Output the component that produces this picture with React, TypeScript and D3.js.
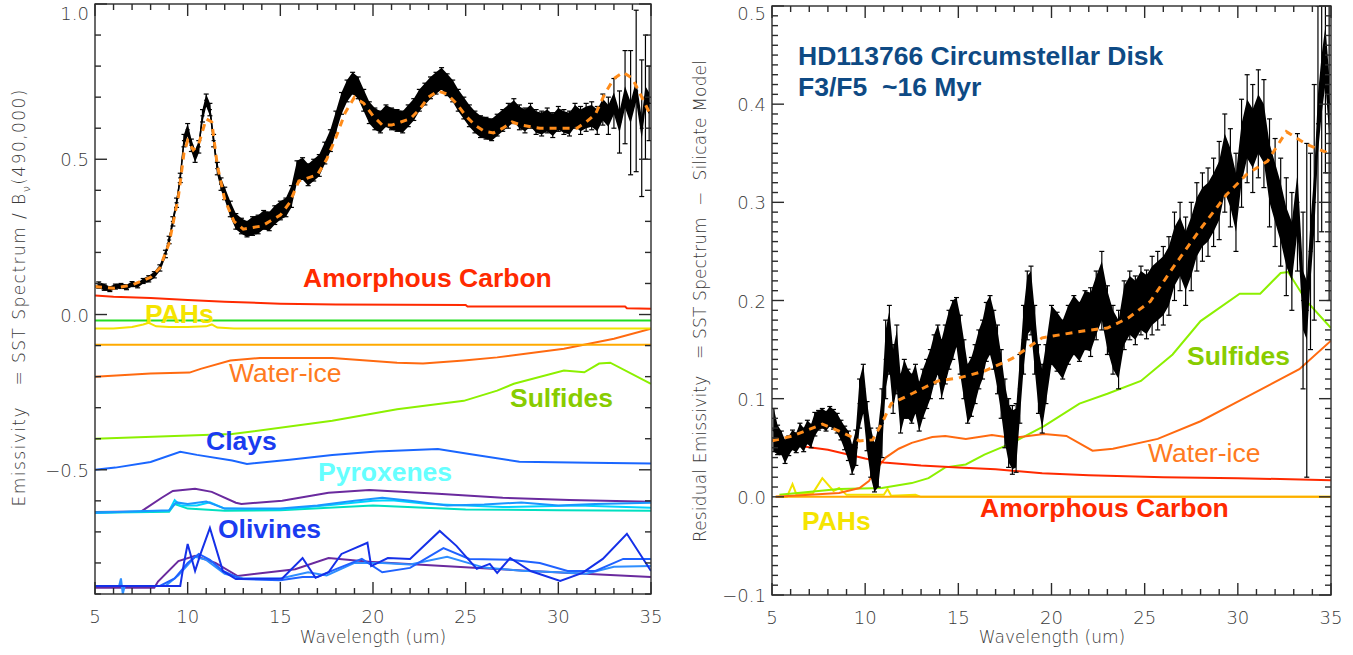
import * as d3 from "d3"

type P2 = [number, number]
type P3 = [number, number, number]

// ---------- left panel: SST spectrum / B_nu(490,000), with offset model components ----------
// [wavelength, value, error]
const leftSpectrum: P3[] = [
  [5.2, 0.095, 0.01], [5.5, 0.088, 0.01], [5.8, 0.082, 0.008], [6.1, 0.09, 0.008], [6.4, 0.092, 0.008],
  [6.7, 0.088, 0.008], [7.0, 0.098, 0.008], [7.3, 0.094, 0.008], [7.6, 0.108, 0.008], [7.9, 0.115, 0.01],
  [8.2, 0.128, 0.01], [8.5, 0.15, 0.01], [8.8, 0.195, 0.012], [9.0, 0.24, 0.012], [9.2, 0.3, 0.015],
  [9.4, 0.36, 0.015], [9.6, 0.44, 0.015], [9.8, 0.56, 0.02], [10.0, 0.595, 0.02], [10.2, 0.545, 0.02],
  [10.4, 0.51, 0.02], [10.6, 0.54, 0.02], [10.8, 0.64, 0.02], [11.0, 0.69, 0.02], [11.2, 0.66, 0.02],
  [11.4, 0.56, 0.02], [11.6, 0.47, 0.02], [11.8, 0.42, 0.02], [12.0, 0.39, 0.02], [12.3, 0.34, 0.025],
  [12.6, 0.3, 0.025], [12.9, 0.285, 0.025], [13.2, 0.275, 0.025], [13.5, 0.285, 0.03], [13.8, 0.29, 0.03],
  [14.1, 0.305, 0.03], [14.4, 0.3, 0.03], [14.7, 0.32, 0.03], [15.0, 0.335, 0.03], [15.3, 0.345, 0.03],
  [15.6, 0.38, 0.035], [15.9, 0.46, 0.035], [16.2, 0.47, 0.035], [16.5, 0.45, 0.035], [16.8, 0.465, 0.035],
  [17.1, 0.48, 0.035], [17.4, 0.52, 0.035], [17.7, 0.56, 0.035], [18.0, 0.62, 0.035], [18.3, 0.68, 0.035],
  [18.6, 0.72, 0.035], [18.9, 0.745, 0.035], [19.2, 0.73, 0.035], [19.5, 0.69, 0.035], [19.8, 0.65, 0.035],
  [20.1, 0.63, 0.035], [20.4, 0.62, 0.035], [20.7, 0.64, 0.035], [21.0, 0.63, 0.035], [21.3, 0.625, 0.035],
  [21.6, 0.62, 0.035], [21.9, 0.64, 0.035], [22.2, 0.66, 0.035], [22.5, 0.69, 0.035], [22.8, 0.71, 0.035],
  [23.1, 0.73, 0.035], [23.4, 0.745, 0.035], [23.7, 0.76, 0.035], [24.0, 0.74, 0.035], [24.3, 0.72, 0.035],
  [24.6, 0.69, 0.035], [24.9, 0.665, 0.035], [25.2, 0.64, 0.035], [25.5, 0.62, 0.035], [25.8, 0.605, 0.035],
  [26.1, 0.6, 0.035], [26.4, 0.595, 0.035], [26.7, 0.61, 0.035], [27.0, 0.625, 0.035], [27.3, 0.64, 0.04],
  [27.6, 0.655, 0.04], [27.9, 0.635, 0.04], [28.2, 0.625, 0.04], [28.5, 0.64, 0.04], [28.8, 0.62, 0.04],
  [29.1, 0.615, 0.04], [29.4, 0.625, 0.04], [29.7, 0.61, 0.04], [30.0, 0.63, 0.04], [30.3, 0.62, 0.04],
  [30.6, 0.615, 0.04], [30.9, 0.64, 0.04], [31.2, 0.625, 0.045], [31.5, 0.635, 0.045], [31.8, 0.64, 0.045],
  [32.1, 0.625, 0.045], [32.4, 0.66, 0.05], [32.7, 0.64, 0.06], [33.0, 0.68, 0.08], [33.3, 0.62, 0.1],
  [33.6, 0.7, 0.15], [33.9, 0.65, 0.2], [34.2, 0.72, 0.26], [34.5, 0.6, 0.22], [34.7, 0.7, 0.2], [34.9, 0.68, 0.12],
]

const leftModel: P2[] = [
  [5, 0.09], [6, 0.085], [7, 0.095], [8, 0.12], [8.5, 0.15], [9, 0.23], [9.5, 0.38], [9.8, 0.52], [10, 0.56],
  [10.3, 0.53], [10.6, 0.55], [11, 0.63], [11.3, 0.62], [11.6, 0.48], [12, 0.37], [12.5, 0.3], [13, 0.275],
  [14, 0.285], [15, 0.32], [15.5, 0.36], [16, 0.43], [16.5, 0.44], [17, 0.45], [17.5, 0.5], [18, 0.57],
  [18.5, 0.65], [19, 0.7], [19.5, 0.68], [20, 0.64], [20.5, 0.61], [21, 0.61], [21.5, 0.62], [22, 0.63],
  [22.5, 0.66], [23, 0.7], [23.5, 0.72], [24, 0.71], [24.5, 0.68], [25, 0.64], [25.5, 0.61], [26, 0.59],
  [26.5, 0.585], [27, 0.6], [27.5, 0.62], [28, 0.61], [29, 0.6], [30, 0.6], [31, 0.6], [31.5, 0.62],
  [32, 0.645], [32.5, 0.71], [33, 0.76], [33.5, 0.78], [34, 0.76], [34.5, 0.7], [35, 0.64],
]

const leftAmCarbon: P2[] = [
  [5, 0.061], [6, 0.057], [8, 0.053], [10, 0.047], [12, 0.041], [15, 0.035], [18, 0.032], [25, 0.031],
  [25.1, 0.026], [33.6, 0.026], [33.7, 0.02], [35, 0.019],
]
const leftGreen: P2[] = [[5, -0.019], [35, -0.019]]
const leftPah: P2[] = [
  [5, -0.045], [6, -0.045], [7, -0.04], [7.6, -0.032], [7.9, -0.027], [8.3, -0.038], [9, -0.04], [10, -0.04],
  [11, -0.038], [11.3, -0.032], [11.6, -0.042], [12.5, -0.045], [35, -0.045],
]
const leftOrangeFlat: P2[] = [[5, -0.097], [35, -0.097]]
const leftWaterIce: P2[] = [
  [5, -0.2], [8, -0.19], [10.1, -0.187], [10.7, -0.175], [12.3, -0.148], [13.9, -0.14], [17.8, -0.14],
  [21.3, -0.155], [22.7, -0.158], [24.9, -0.148], [26.7, -0.138], [30.3, -0.11], [33, -0.078], [35, -0.046],
]
const leftSulfides: P2[] = [
  [5, -0.4], [12.4, -0.385], [17.8, -0.342], [21.3, -0.305], [24.9, -0.278], [26.7, -0.245], [27.6, -0.223],
  [30.3, -0.18], [31.4, -0.186], [32.2, -0.158], [32.8, -0.155], [35, -0.223],
]
const leftClays: P2[] = [
  [5, -0.5], [6.1, -0.493], [8, -0.475], [9.6, -0.442], [10.5, -0.452], [12.4, -0.47], [13.2, -0.481],
  [15.5, -0.468], [17.8, -0.452], [20.2, -0.441], [23.5, -0.433], [25.2, -0.449], [27.9, -0.474],
  [31.7, -0.477], [35, -0.48],
]
const leftPyroxPurple: P2[] = [
  [5, -0.636], [7.5, -0.634], [7.7, -0.626], [8.6, -0.59], [9.2, -0.568], [10.4, -0.561], [11.3, -0.571],
  [12.6, -0.606], [12.9, -0.61], [15.1, -0.6], [17.6, -0.574], [19.8, -0.565], [23.5, -0.577], [27, -0.59],
  [30.6, -0.597], [35, -0.603],
]
const leftPyroxTeal: P2[] = [
  [5, -0.638], [9, -0.635], [9.3, -0.61], [10, -0.625], [12, -0.632], [15, -0.63], [20, -0.615], [25, -0.628],
  [30, -0.63], [35, -0.632],
]
const leftPyroxCyan: P2[] = [
  [5, -0.638], [9, -0.632], [9.3, -0.598], [9.6, -0.615], [10.5, -0.615], [11.2, -0.605], [12, -0.625],
  [15, -0.628], [18, -0.612], [20, -0.6], [21, -0.598], [23, -0.61], [27, -0.62], [31, -0.615], [35, -0.622],
]
const leftPyroxBlue: P2[] = [
  [5, -0.638], [9, -0.63], [9.4, -0.605], [10, -0.61], [11, -0.602], [12, -0.625], [15, -0.625], [17, -0.615],
  [19, -0.6], [20.5, -0.59], [22, -0.6], [24, -0.615], [26, -0.612], [28, -0.605], [30, -0.615], [32, -0.61],
  [35, -0.606],
]
const leftOlivPurple: P2[] = [
  [5, -0.88], [8.2, -0.88], [8.4, -0.86], [9.5, -0.794], [10.4, -0.777], [11.5, -0.8], [12.7, -0.842],
  [15.8, -0.82], [17.6, -0.784], [19.8, -0.796], [25.2, -0.815], [30.6, -0.832], [35, -0.845],
]
const leftOlivDark: P2[] = [
  [5, -0.874], [9.6, -0.874], [9.8, -0.8], [10.0, -0.739], [10.4, -0.826], [10.7, -0.77], [11.2, -0.687],
  [11.9, -0.826], [12.6, -0.852], [15.1, -0.85], [16.2, -0.784], [16.9, -0.848], [17.6, -0.83], [18.3, -0.771],
  [19.7, -0.735], [19.9, -0.81], [20.8, -0.784], [22, -0.787], [23.6, -0.697], [24.5, -0.745], [25.6, -0.819],
  [26.3, -0.803], [26.7, -0.832], [27.4, -0.784], [28.5, -0.826], [30.1, -0.858], [31.3, -0.832],
  [32.4, -0.787], [33.7, -0.706], [35, -0.826],
]
const leftOlivMid: P2[] = [
  [5, -0.874], [8.5, -0.874], [9.3, -0.85], [10.0, -0.8], [10.6, -0.771], [11.2, -0.79], [11.9, -0.826],
  [12.9, -0.852], [15, -0.856], [16.2, -0.845], [17, -0.845], [18, -0.82], [19.4, -0.787], [20.5, -0.83],
  [22, -0.816], [23.8, -0.752], [25.2, -0.787], [27.4, -0.79], [29, -0.8], [30.5, -0.826], [32, -0.826],
  [33.5, -0.787], [35, -0.787],
]
const leftOlivLight: P2[] = [
  [5, -0.874], [6.3, -0.874], [6.4, -0.85], [6.5, -0.9], [6.6, -0.874], [8.8, -0.874], [9.5, -0.84],
  [10.4, -0.78], [11, -0.79], [12, -0.835], [13, -0.85], [15, -0.85], [16.5, -0.83], [17.5, -0.84],
  [19, -0.8], [20.5, -0.8], [22, -0.805], [24, -0.78], [26, -0.815], [28, -0.825], [30, -0.83],
  [31.5, -0.835], [33, -0.812], [35, -0.81],
]

// ---------- right panel: residual emissivity ----------
const rightSpectrum: P3[] = [
  [5.1, 0.068, 0.022], [5.3, 0.058, 0.015], [5.5, 0.055, 0.012], [5.7, 0.046, 0.012], [5.9, 0.052, 0.01],
  [6.1, 0.058, 0.01], [6.3, 0.055, 0.01], [6.5, 0.063, 0.012], [6.7, 0.058, 0.012], [6.9, 0.066, 0.012],
  [7.1, 0.062, 0.012], [7.3, 0.074, 0.012], [7.5, 0.078, 0.01], [7.7, 0.08, 0.01], [7.9, 0.077, 0.01],
  [8.1, 0.082, 0.01], [8.3, 0.079, 0.01], [8.5, 0.075, 0.01], [8.7, 0.068, 0.01], [8.9, 0.06, 0.012],
  [9.1, 0.052, 0.015], [9.3, 0.038, 0.015], [9.5, 0.05, 0.018], [9.7, 0.095, 0.025], [9.9, 0.11, 0.025],
  [10.1, 0.072, 0.025], [10.3, 0.045, 0.025], [10.5, 0.03, 0.025], [10.7, 0.04, 0.03], [10.9, 0.075, 0.035],
  [11.1, 0.14, 0.04], [11.3, 0.16, 0.035], [11.5, 0.12, 0.035], [11.7, 0.14, 0.035], [11.9, 0.095, 0.03],
  [12.1, 0.11, 0.03], [12.3, 0.105, 0.025], [12.5, 0.1, 0.025], [12.7, 0.11, 0.025], [12.9, 0.092, 0.025],
  [13.1, 0.105, 0.025], [13.3, 0.115, 0.025], [13.5, 0.125, 0.025], [13.7, 0.14, 0.025], [13.9, 0.15, 0.025],
  [14.1, 0.13, 0.03], [14.3, 0.145, 0.03], [14.5, 0.16, 0.03], [14.7, 0.17, 0.03], [14.9, 0.178, 0.025],
  [15.1, 0.155, 0.03], [15.3, 0.13, 0.03], [15.5, 0.105, 0.03], [15.7, 0.112, 0.03], [15.9, 0.125, 0.03],
  [16.1, 0.14, 0.03], [16.3, 0.15, 0.03], [16.5, 0.168, 0.03], [16.7, 0.175, 0.03], [16.9, 0.16, 0.03],
  [17.1, 0.14, 0.035], [17.3, 0.115, 0.035], [17.5, 0.085, 0.035], [17.7, 0.065, 0.035], [17.9, 0.058, 0.035],
  [18.1, 0.06, 0.035], [18.3, 0.11, 0.035], [18.5, 0.16, 0.035], [18.7, 0.195, 0.035], [18.9, 0.2, 0.035],
  [19.1, 0.16, 0.035], [19.3, 0.12, 0.035], [19.5, 0.1, 0.035], [19.7, 0.125, 0.03], [20.0, 0.165, 0.03],
  [20.3, 0.158, 0.03], [20.6, 0.15, 0.03], [20.9, 0.165, 0.03], [21.2, 0.175, 0.03], [21.5, 0.168, 0.03],
  [21.8, 0.18, 0.03], [22.1, 0.178, 0.035], [22.4, 0.195, 0.035], [22.7, 0.21, 0.04], [23.0, 0.18, 0.035],
  [23.3, 0.16, 0.035], [23.6, 0.15, 0.04], [23.9, 0.185, 0.035], [24.2, 0.195, 0.035], [24.5, 0.19, 0.035],
  [24.8, 0.2, 0.035], [25.1, 0.196, 0.035], [25.4, 0.205, 0.04], [25.7, 0.21, 0.04], [26.0, 0.215, 0.04],
  [26.3, 0.225, 0.04], [26.6, 0.245, 0.045], [26.9, 0.255, 0.045], [27.2, 0.24, 0.045], [27.5, 0.255, 0.045],
  [27.8, 0.275, 0.045], [28.1, 0.285, 0.045], [28.4, 0.29, 0.045], [28.7, 0.3, 0.045], [29.0, 0.312, 0.05],
  [29.3, 0.34, 0.05], [29.6, 0.325, 0.05], [29.9, 0.3, 0.05], [30.2, 0.35, 0.055], [30.5, 0.375, 0.055],
  [30.8, 0.365, 0.055], [31.1, 0.38, 0.055], [31.4, 0.37, 0.055], [31.7, 0.33, 0.055], [32.0, 0.31, 0.055],
  [32.3, 0.29, 0.055], [32.6, 0.265, 0.06], [32.9, 0.25, 0.06], [33.2, 0.3, 0.07], [33.5, 0.2, 0.09],
  [33.7, 0.19, 0.17], [33.9, 0.25, 0.1], [34.1, 0.3, 0.12], [34.3, 0.38, 0.12], [34.5, 0.42, 0.15],
  [34.7, 0.45, 0.12], [34.9, 0.4, 0.2],
]

const rightModel: P2[] = [
  [5.0, 0.057], [6.1, 0.062], [7.7, 0.074], [8.6, 0.067], [9.7, 0.057], [10.4, 0.058], [10.9, 0.075],
  [11.4, 0.095], [12.5, 0.105], [13.9, 0.118], [15.0, 0.121], [16.4, 0.128], [17.9, 0.141], [19.5, 0.162],
  [21.7, 0.169], [23.0, 0.172], [24.1, 0.182], [25.3, 0.199], [26.5, 0.233], [28.0, 0.273], [29.4, 0.308],
  [30.5, 0.329], [31.6, 0.342], [32.6, 0.372], [33.7, 0.359], [35.0, 0.349],
]
const rightAmCarbon: P2[] = [
  [5.2, 0.056], [6, 0.053], [8, 0.048], [10, 0.039], [11, 0.035], [13, 0.032], [15, 0.03], [17, 0.028],
  [19.5, 0.024], [22, 0.022], [26, 0.02], [30, 0.019], [35, 0.017],
]
const rightOrangeFlat: P2[] = [[5.2, 0], [35, 0]]
const rightWaterIce: P2[] = [
  [5.2, 0.0], [8.6, 0.004], [9.7, 0.009], [10.2, 0.016], [10.5, 0.026], [11.1, 0.04], [11.8, 0.049],
  [12.5, 0.055], [13.6, 0.061], [14.3, 0.062], [15.4, 0.059], [16.8, 0.063], [17.9, 0.06], [19.6, 0.064],
  [20.8, 0.062], [22.2, 0.047], [23.3, 0.049], [25.7, 0.059], [28.0, 0.077], [30.1, 0.098], [33.3, 0.13],
  [35, 0.159],
]
const rightSulfides: P2[] = [
  [5.4, 0.002], [8.6, 0.008], [10.9, 0.009], [12.5, 0.014], [13.4, 0.019], [14.3, 0.03], [15.4, 0.033],
  [16.4, 0.043], [17.9, 0.055], [19.6, 0.072], [21.5, 0.095], [23.0, 0.105], [24.8, 0.118], [26.5, 0.145],
  [28.0, 0.179], [30.1, 0.207], [31.2, 0.207], [32.3, 0.228], [32.7, 0.229], [33.7, 0.199], [35, 0.172],
]
const rightPah: P2[] = [
  [5.2, 0], [5.8, 0], [6.1, 0.013], [6.3, 0.003], [7.2, 0.004], [7.7, 0.019], [8.3, 0.006], [8.6, 0.009],
  [9.0, 0.002], [11.0, 0.002], [11.2, 0.008], [11.4, 0.001], [12.7, 0.002], [13, 0], [35, 0],
]

// axis tick values
const xMajor = [5, 10, 15, 20, 25, 30, 35]
const leftYMajor = [-0.5, 0, 0.5, 1.0]
const rightYMajor = [-0.1, 0, 0.1, 0.2, 0.3, 0.4, 0.5]

const W = 1353
const H = 655
const tickFont = "'DejaVu Sans', Verdana, sans-serif"
const labelFont = "'Liberation Sans', Arial, sans-serif"
const axisColor = "#2b2b2b"
const textGrey = "#3a3a3a"

type Scale = d3.ScaleLinear<number, number>

function Frame({ x, y, yMinorStep, yMajor, id }: { x: Scale; y: Scale; yMinorStep: number; yMajor: number[]; id: string }) {
  const [x0, x1] = x.range()
  const [y0, y1] = y.range() // bottom, top
  const xMinor = d3.range(x.domain()[0], x.domain()[1] + 0.001, 1)
  const [d0, d1] = y.domain()
  const yMinor = d3.range(Math.round(d0 / yMinorStep), Math.round(d1 / yMinorStep) + 1).map((k) => k * yMinorStep)
  const isMajor = (v: number) => yMajor.some((m) => Math.abs(m - v) < 1e-6)
  const fmt = (v: number) => (v < 0 ? "\u2212" : "") + Math.abs(v).toFixed(1)
  return (
    <g stroke={axisColor} strokeWidth={1.4} fill="none">
      <rect x={x0} y={y1} width={x1 - x0} height={y0 - y1} />
      {xMinor.map((v) => {
        const len = xMajor.includes(v) ? 12 : 6
        return (
          <g key={`x${id}${v}`}>
            <line x1={x(v)} x2={x(v)} y1={y0} y2={y0 - len} />
            <line x1={x(v)} x2={x(v)} y1={y1} y2={y1 + len} />
          </g>
        )
      })}
      {yMinor.map((v) => {
        const len = isMajor(v) ? 12 : 6
        return (
          <g key={`y${id}${v}`}>
            <line x1={x0} x2={x0 + len} y1={y(v)} y2={y(v)} />
            <line x1={x1} x2={x1 - len} y1={y(v)} y2={y(v)} />
          </g>
        )
      })}
      <g stroke="none" fill={textGrey} fontFamily={tickFont} fontWeight={200} fontSize={18}>
        {xMajor.map((v) => (
          <text key={`xl${id}${v}`} x={x(v)} y={y0 + 29} textAnchor="middle">
            {v}
          </text>
        ))}
        {yMajor.map((v) => (
          <text key={`yl${id}${v}`} x={x0 - 6} y={Math.max(y(v) + 7, 20)} textAnchor="end">
            {fmt(v)}
          </text>
        ))}
      </g>
    </g>
  )
}

function Spectrum({ data, x, y, band }: { data: P3[]; x: Scale; y: Scale; band: number }) {
  const area = d3
    .area<P3>()
    .x((d) => x(d[0]))
    .y0((d) => y(d[1] - Math.min(d[2], band)))
    .y1((d) => y(d[1] + Math.min(d[2], band)))
  const line = d3
    .line<P3>()
    .x((d) => x(d[0]))
    .y((d) => y(d[1]))
  return (
    <g>
      <path d={area(data) ?? ""} fill="#000" />
      <path d={line(data) ?? ""} fill="none" stroke="#000" strokeWidth={1.5} />
      {data.map((d) => {
        const cx = x(d[0])
        const lo = y(d[1] - d[2])
        const hi = y(d[1] + d[2])
        return (
          <g key={d[0]} stroke="#000" strokeWidth={1.2}>
            <line x1={cx} x2={cx} y1={lo} y2={hi} />
            <line x1={cx - 2.5} x2={cx + 2.5} y1={lo} y2={lo} />
            <line x1={cx - 2.5} x2={cx + 2.5} y1={hi} y2={hi} />
            <line x1={cx - 2} x2={cx + 2} y1={y(d[1])} y2={y(d[1])} />
          </g>
        )
      })}
    </g>
  )
}

function Curve({ data, x, y, color, width = 2, dash }: { data: P2[]; x: Scale; y: Scale; color: string; width?: number; dash?: string }) {
  const line = d3
    .line<P2>()
    .x((d) => x(d[0]))
    .y((d) => y(d[1]))
  return <path d={line(data) ?? ""} fill="none" stroke={color} strokeWidth={width} strokeDasharray={dash} />
}

function Label({ x, y, color, children, bold = true }: { x: number; y: number; color: string; children: string; bold?: boolean }) {
  return (
    <text x={x} y={y} fill={color} fontFamily={labelFont} fontWeight={bold ? 700 : 400} fontSize={26.5} style={{ whiteSpace: "pre" }}>
      {children}
    </text>
  )
}

export default function App() {
  const xL = d3.scaleLinear([5, 35], [95, 651])
  const yL = d3.scaleLinear([-0.9, 1.0], [594, 4])
  const xR = d3.scaleLinear([5, 35], [772, 1331])
  const yR = d3.scaleLinear([-0.1, 0.5], [595, 6])

  return (
    <svg width={W} height={H} viewBox={`0 0 ${W} ${H}`} style={{ position: "absolute", left: 0, top: 0, background: "#fff" }}>
      <defs>
        <clipPath id="clipL">
          <rect x={95} y={4} width={556} height={590} />
        </clipPath>
        <clipPath id="clipR">
          <rect x={772} y={6} width={559} height={589} />
        </clipPath>
      </defs>
      <rect width={W} height={H} fill="#fff" />

      {/* left panel */}
      <g clipPath="url(#clipL)">
        <Curve data={leftOlivPurple} x={xL} y={yL} color="#6a2a9e" />
        <Curve data={leftOlivLight} x={xL} y={yL} color="#2f8fff" />
        <Curve data={leftOlivMid} x={xL} y={yL} color="#1f62ff" />
        <Curve data={leftOlivDark} x={xL} y={yL} color="#1530e8" />
        <Curve data={leftPyroxPurple} x={xL} y={yL} color="#6a2a9e" />
        <Curve data={leftPyroxTeal} x={xL} y={yL} color="#00e0c0" />
        <Curve data={leftPyroxCyan} x={xL} y={yL} color="#00d2ff" />
        <Curve data={leftPyroxBlue} x={xL} y={yL} color="#1a96ff" />
        <Curve data={leftClays} x={xL} y={yL} color="#1a66ff" />
        <Curve data={leftSulfides} x={xL} y={yL} color="#8cf000" />
        <Curve data={leftWaterIce} x={xL} y={yL} color="#ff6a10" />
        <Curve data={leftOrangeFlat} x={xL} y={yL} color="#ffaa00" />
        <Curve data={leftPah} x={xL} y={yL} color="#f2e200" />
        <Curve data={leftGreen} x={xL} y={yL} color="#22dd22" />
        <Curve data={leftAmCarbon} x={xL} y={yL} color="#ff2a00" />
        <Spectrum data={leftSpectrum} x={xL} y={yL} band={0.035} />
        <Curve data={leftModel} x={xL} y={yL} color="#ff8c1a" width={3} dash="7 6" />
      </g>
      <Frame x={xL} y={yL} yMinorStep={0.1} yMajor={leftYMajor} id="L" />
      <Label x={303} y={287} color="#ff2a00">Amorphous Carbon</Label>
      <Label x={145} y={323} color="#f5e400">PAHs</Label>
      <Label x={229} y={382} color="#ff7a20" bold={false}>Water-ice</Label>
      <Label x={510} y={407} color="#88cc00">Sulfides</Label>
      <Label x={206} y={450} color="#1a3cf0">Clays</Label>
      <Label x={318} y={481} color="#66ffff">Pyroxenes</Label>
      <Label x={218} y={538} color="#1a3cf0">Olivines</Label>

      <text x={373} y={643} textAnchor="middle" fontFamily={tickFont} fontWeight={200} fontSize={17} fill={textGrey}>
        Wavelength (um)
      </text>
      <text
        transform="translate(25,298) rotate(-90)"
        textAnchor="middle"
        fontFamily={tickFont}
        fontWeight={200}
        fontSize={17}
        fill={textGrey}
        textLength={417}
        style={{ whiteSpace: "pre" }}
      >
        {"Emissivity   = SST Spectrum / B"}
        <tspan fontSize={11} dy={5}>
          ν
        </tspan>
        <tspan dy={-5}>(490,000)</tspan>
      </text>

      {/* right panel */}
      <g clipPath="url(#clipR)">
        <Curve data={rightPah} x={xR} y={yR} color="#f2e200" />
        <Curve data={rightOrangeFlat} x={xR} y={yR} color="#ffaa00" />
        <Curve data={rightSulfides} x={xR} y={yR} color="#8cf000" />
        <Curve data={rightWaterIce} x={xR} y={yR} color="#ff6a10" />
        <Curve data={rightAmCarbon} x={xR} y={yR} color="#ff2a00" />
        <Spectrum data={rightSpectrum} x={xR} y={yR} band={0.03} />
        <Curve data={rightModel} x={xR} y={yR} color="#ff8c1a" width={3} dash="7 6" />
      </g>
      <Frame x={xR} y={yR} yMinorStep={0.01} yMajor={rightYMajor} id="R" />
      <Label x={798} y={65} color="#0e4a84">HD113766 Circumstellar Disk</Label>
      <Label x={798} y={96} color="#0e4a84">{"F3/F5  ~16 Myr"}</Label>
      <Label x={1187} y={365} color="#88cc00">Sulfides</Label>
      <Label x={1148} y={462} color="#ff7a20" bold={false}>Water-ice</Label>
      <Label x={980} y={517} color="#ff2a00">Amorphous Carbon</Label>
      <Label x={802} y={530} color="#f5e400">PAHs</Label>

      <text x={1052} y={643} textAnchor="middle" fontFamily={tickFont} fontWeight={200} fontSize={17} fill={textGrey}>
        Wavelength (um)
      </text>
      <text
        transform="translate(706,301) rotate(-90)"
        textAnchor="middle"
        fontFamily={tickFont}
        fontWeight={200}
        fontSize={17}
        fill={textGrey}
        textLength={482}
        style={{ whiteSpace: "pre" }}
      >
        {"Residual Emissivity   = SST Spectrum  \u2212  Silicate Model"}
      </text>
    </svg>
  )
}
